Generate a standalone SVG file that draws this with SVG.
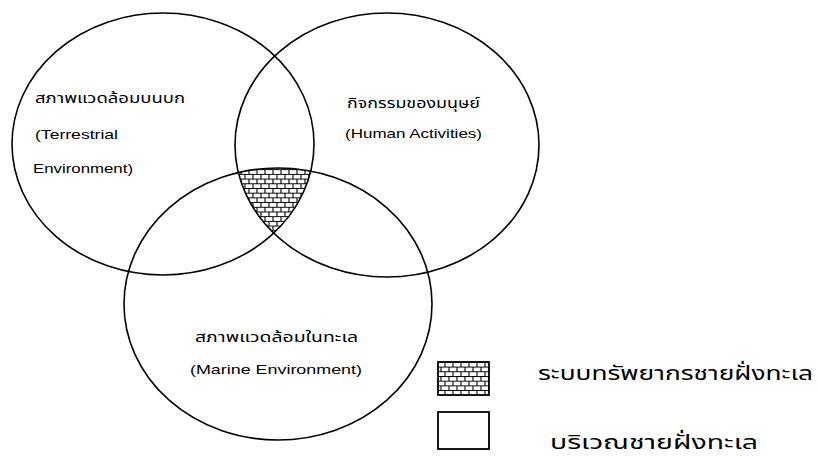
<svg xmlns="http://www.w3.org/2000/svg" width="818" height="457" viewBox="0 0 818 457">
<style>
.ring{fill:none;stroke:#000;stroke-width:1.6}
.lbl{font-family:"Liberation Sans","Noto Sans Thai","Noto Sans",sans-serif;fill:#000}
.th{font-size:14px}
.en{font-size:13px}
.lg{font-size:20px}
.box{stroke:#000;stroke-width:1.8}
</style>
<defs>
<pattern id="brick" width="8" height="9.4" patternUnits="userSpaceOnUse">
<rect width="8" height="9.4" fill="#fff"/>
<path d="M0 0.5H8M0 5.2H8M1 0.5V5.2M5 5.2V9.9" stroke="#000" stroke-width="1.1" fill="none"/>
</pattern>
<clipPath id="c1"><ellipse cx="163" cy="144" rx="151" ry="131"/></clipPath>
<clipPath id="c2"><ellipse cx="387" cy="145" rx="152" ry="132"/></clipPath>
</defs>
<g id="core">
<g clip-path="url(#c1)"><g clip-path="url(#c2)"><ellipse cx="278" cy="304" rx="154" ry="136" fill="url(#brick)"/></g></g>
</g>
<g id="terrestrial">
<ellipse class="ring" cx="163" cy="144" rx="151" ry="131"/>
<text class="lbl th" x="35" y="103" textLength="150" lengthAdjust="spacingAndGlyphs">สภาพแวดล้อมบนบก</text>
<text class="lbl en" x="35" y="139" textLength="83" lengthAdjust="spacingAndGlyphs">(Terrestrial</text>
<text class="lbl en" x="33" y="173" textLength="100" lengthAdjust="spacingAndGlyphs">Environment)</text>
</g>
<g id="human">
<ellipse class="ring" cx="387" cy="145" rx="152" ry="132"/>
<text class="lbl th" x="347" y="108" textLength="133" lengthAdjust="spacingAndGlyphs">กิจกรรมของมนุษย์</text>
<text class="lbl en" x="345" y="138" textLength="137" lengthAdjust="spacingAndGlyphs">(Human Activities)</text>
</g>
<g id="marine">
<ellipse class="ring" cx="278" cy="304" rx="154" ry="136"/>
<text class="lbl th" x="195" y="342" textLength="163" lengthAdjust="spacingAndGlyphs">สภาพแวดล้อมในทะเล</text>
<text class="lbl en" x="190" y="374" textLength="172" lengthAdjust="spacingAndGlyphs">(Marine  Environment)</text>
</g>
<g id="legend-resource">
<rect class="box" x="438" y="362" width="51" height="33" fill="url(#brick)"/>
<text class="lbl lg" x="538" y="380" textLength="275" lengthAdjust="spacingAndGlyphs">ระบบทรัพยากรชายฝั่งทะเล</text>
</g>
<g id="legend-coastal">
<rect class="box" x="438" y="412" width="51" height="37" fill="#fff"/>
<text class="lbl lg" x="550" y="449" textLength="208" lengthAdjust="spacingAndGlyphs">บริเวณชายฝั่งทะเล</text>
</g>
</svg>
